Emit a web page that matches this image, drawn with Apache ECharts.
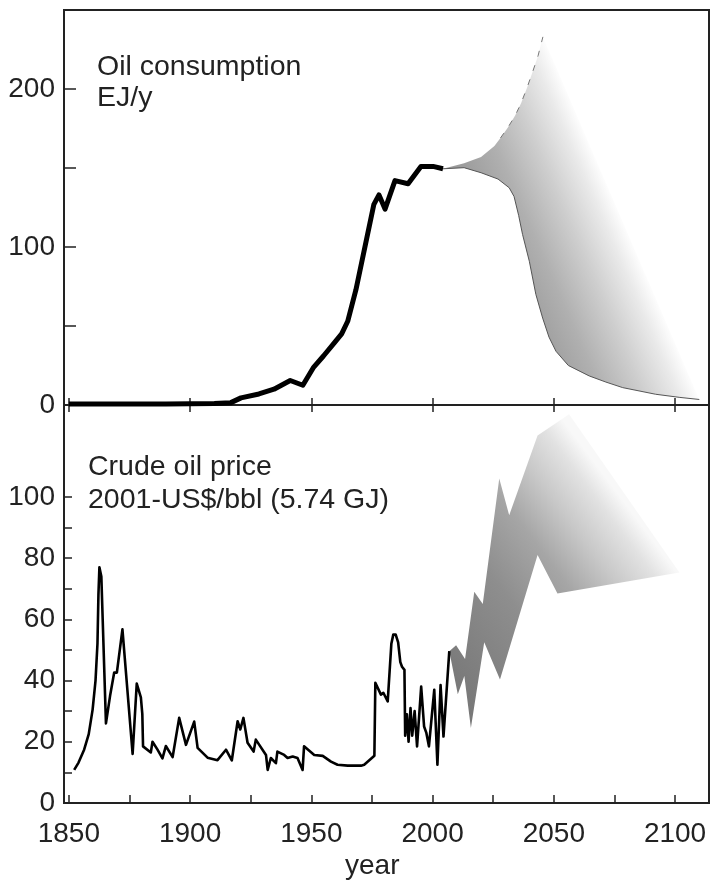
<!DOCTYPE html>
<html><head><meta charset="utf-8">
<script src="https://cdn.jsdelivr.net/npm/echarts@6/dist/echarts.min.js"></script>
<style>html,body{margin:0;padding:0;background:#fff}#c{width:715px;height:881px}</style>
</head><body><div id="c"></div>
<script>
// ---------- data ----------
const xTickLabels = [1850, 1900, 1950, 2000, 2050, 2100];
const xMinorTicks = [1850, 1875, 1900, 1925, 1950, 1975, 2000, 2025, 2050, 2075, 2100];
const consTicks = [0, 50, 100, 150, 200];
const consTickLabels = [0, 100, 200];
const priceTicks = [0, 10, 20, 30, 40, 50, 60, 70, 80, 90, 100];
const priceTickLabels = [0, 20, 40, 60, 80, 100];

// historic oil consumption, EJ/y
const consYears  = [1850, 1870, 1890, 1900, 1910, 1916.8, 1921, 1928.4, 1934.6, 1941.3, 1946.5, 1951, 1955, 1959.3, 1962.5, 1965, 1968.4, 1975.8, 1977.9, 1980.4, 1984.5, 1989.9, 1995.2, 2000.2, 2004.3];
const consValues = [0.6, 0.6, 0.7, 0.8, 1.0, 1.5, 4.5, 7, 10, 15.5, 12.5, 24, 31, 39, 45, 53, 73, 127, 133, 124, 142, 140, 151, 151, 149.5];

// future consumption envelope
const consUpperYears  = [2004.3, 2013, 2020, 2025.5, 2028, 2031, 2034, 2036.5, 2039, 2041.3, 2043.5, 2045.5, 2110];
const consUpperValues = [149.5, 153, 157, 164, 169, 175.5, 183, 191, 201, 211, 221, 233, 3.5];
const consLowerYears  = [2004.3, 2013, 2020, 2027, 2031.6, 2033.6, 2035.5, 2037.1, 2039.9, 2042.6, 2045.4, 2048, 2050.9, 2056, 2064.6, 2071.5, 2078.4, 2092, 2102, 2110];
const consLowerValues = [149.5, 150.2, 147, 143, 137.5, 132, 120, 108, 91, 70, 55, 43, 34, 25, 18.4, 14.5, 11, 6.8, 4.8, 3.5];

// historic crude oil price, 2001-US$/bbl
const priceYears = [1852.2, 1854, 1856.3, 1858.2, 1859.8, 1861, 1861.8, 1862.2, 1862.6, 1863.0, 1863.4, 1865.3, 1867, 1868.7, 1869.8, 1872.1, 1876.3, 1878, 1879.7, 1880.3, 1880.6, 1883.8, 1884.5, 1886.5, 1888.6, 1890, 1892.8, 1895.5, 1898.3, 1901.7, 1903.1, 1907.2, 1911.3, 1914.8, 1917.2, 1919.6, 1920.7, 1922, 1923.7, 1926.2, 1927.1, 1931.3, 1932, 1933.3, 1935.4, 1936, 1938.8, 1940.2, 1942.3, 1944.3, 1946.4, 1947, 1951.2, 1954.7, 1958.1, 1960.8, 1965, 1970.5, 1971.8, 1976, 1976.4, 1978.7, 1979.7, 1981.5, 1983.0, 1983.8, 1984.8, 1985.8, 1986.7, 1987.4, 1988.4, 1988.7, 1989.4, 1990.1, 1990.9, 1991.6, 1992.6, 1993.6, 1995.3, 1996.5, 1997.4, 1998.5, 2000.7, 2002, 2003.3, 2004.5, 2006.9];
const priceValues = [10.8, 13.2, 17.4, 22.5, 30.5, 40, 52, 68, 77, 77.5, 74, 26, 35, 42.6, 42.6, 56.7, 16, 39, 34.5, 29, 18.5, 16.5, 20, 17.5, 14.6, 18.6, 15, 27.8, 19, 26.6, 18, 14.8, 14, 17.4, 13.9, 26.7, 24, 27.8, 19.7, 16.8, 20.7, 15.7, 10.8, 14.7, 13, 16.8, 15.7, 14.7, 15.2, 14.7, 10.8, 18.5, 15.7, 15.4, 13.5, 12.5, 12.2, 12.2, 12.5, 15.4, 39.3, 35.4, 36, 33.2, 52, 55, 55, 52.5, 46, 44.5, 43.5, 22, 29, 20, 31, 22, 30, 18.5, 38, 25, 23, 18.5, 37, 12.5, 38.5, 21.7, 49.6];

// future price band
const priceUpperYears  = [2006.9, 2009.7, 2013.4, 2017.2, 2020.7, 2027.5, 2031.6, 2043.3, 2056.3, 2101.8];
const priceUpperValues = [49.6, 51.5, 47, 69, 65, 106, 94, 120, 127, 75.3];
const priceLowerYears  = [2006.9, 2010.4, 2013.1, 2015.8, 2021.3, 2027.8, 2043.3, 2051.5, 2101.8];
const priceLowerValues = [49.6, 35.5, 41.5, 24.5, 52.5, 40.3, 81, 68.4, 75.3];

// ---------- helpers ----------
const zip = (a, b) => a.map((v, i) => [v, b[i]]);
const FONT = 'Liberation Sans, Arial, Helvetica, sans-serif';
const INK = '#222';

const consLine = zip(consYears, consValues);
const consUpper = zip(consUpperYears, consUpperValues);
const consLower = zip(consLowerYears, consLowerValues);
const priceLine = zip(priceYears, priceValues);
const priceUpper = zip(priceUpperYears, priceUpperValues);
const priceLower = zip(priceLowerYears, priceLowerValues);

function band(upper, lower, gradient) {
  return function (params, api) {
    if (params.dataIndex !== 0) return null;
    const pts = upper.concat(lower.slice().reverse()).map(p => api.coord(p));
    return { type: 'polygon', silent: true, shape: { points: pts }, style: { fill: gradient(api), stroke: null } };
  };
}

const consGradient = api => {
  const p1 = api.coord(consUpper[consUpper.length - 2]);
  const p2 = api.coord(consUpper[consUpper.length - 1]);
  let dx = p2[0] - p1[0], dy = p2[1] - p1[1];
  const L = Math.hypot(dx, dy); dx /= L; dy /= L;
  const nx = dy, ny = -dx; // normal pointing right/up
  const wx = (p1[0] + p2[0]) / 2, wy = (p1[1] + p2[1]) / 2;
  return {
    type: 'linear', global: true,
    x: wx - 125 * nx, y: wy - 125 * ny, x2: wx + 2 * nx, y2: wy + 2 * ny,
    colorStops: [
      { offset: 0, color: '#9c9c9c' }, { offset: 0.3, color: '#b0b0b0' },
      { offset: 0.6, color: '#cecece' }, { offset: 0.85, color: '#eaeaea' },
      { offset: 1, color: '#ffffff' }
    ]
  };
};
const priceGradient = api => {
  const a = api.coord([2011.3, 33.7]);
  const b = api.coord([2093.8, 82.7]);
  return {
    type: 'linear', global: true, x: a[0], y: a[1], x2: b[0], y2: b[1],
    colorStops: [
      { offset: 0, color: '#787878' }, { offset: 0.4, color: '#8e8e8e' },
      { offset: 0.62, color: '#a6a6a6' }, { offset: 0.78, color: '#c8c8c8' },
      { offset: 0.92, color: '#e2e2e2' }, { offset: 1, color: '#f8f8f8' }
    ]
  };
};

const tickStyle = { color: INK, width: 1.5 };
const labelStyle = { fontSize: 28, fontFamily: FONT, color: INK, formatter: v => String(v) };

const chart = echarts.init(document.getElementById('c'), null, { renderer: 'canvas' });
chart.setOption({
  animation: false,
  backgroundColor: '#fff',
  grid: [
    { left: 64, right: 6, top: 10, height: 395, show: true, borderColor: INK, borderWidth: 2, backgroundColor: 'transparent' },
    { left: 64, right: 6, top: 405, height: 398, show: true, borderColor: INK, borderWidth: 2, backgroundColor: 'transparent' }
  ],
  xAxis: [
    { gridIndex: 0, type: 'value', min: 1848, max: 2114, position: 'bottom',
      axisLine: { show: false }, splitLine: { show: false },
      axisTick: { show: true, inside: true, length: 7, lineStyle: tickStyle, customValues: xTickLabels },
      axisLabel: { show: false } },
    { gridIndex: 1, type: 'value', min: 1848, max: 2114, position: 'bottom',
      axisLine: { show: false }, splitLine: { show: false },
      axisTick: { show: true, inside: true, length: 8, lineStyle: tickStyle, customValues: xMinorTicks },
      axisLabel: Object.assign({ show: true, margin: 17, customValues: xTickLabels }, labelStyle) },
    { gridIndex: 1, type: 'value', min: 1848, max: 2114, position: 'top',
      axisLine: { show: false }, splitLine: { show: false },
      axisTick: { show: true, inside: true, length: 7, lineStyle: tickStyle, customValues: xTickLabels },
      axisLabel: { show: false } }
  ],
  yAxis: [
    { gridIndex: 0, type: 'value', min: 0, max: 250,
      axisLine: { show: false }, splitLine: { show: false },
      axisTick: { show: true, inside: true, length: 12, lineStyle: tickStyle, customValues: consTicks },
      axisLabel: Object.assign({ show: true, margin: 9, customValues: consTickLabels }, labelStyle) },
    { gridIndex: 1, type: 'value', min: 0, max: 130,
      axisLine: { show: false }, splitLine: { show: false },
      axisTick: { show: true, inside: true, length: 8, lineStyle: tickStyle, customValues: priceTicks },
      axisLabel: Object.assign({ show: true, margin: 9, customValues: priceTickLabels }, labelStyle) }
  ],
  graphic: [
    { type: 'text', left: 97, top: 52, silent: true,
      style: { text: 'Oil consumption\nEJ/y', font: '28.5px ' + FONT, lineHeight: 31, fill: INK } },
    { type: 'text', left: 88, top: 451, silent: true,
      style: { text: 'Crude oil price\n2001-US$/bbl (5.74 GJ)', font: '28.5px ' + FONT, lineHeight: 33, fill: INK } },
    { type: 'text', left: 345, top: 852, silent: true,
      style: { text: 'year', font: '28px ' + FONT, fill: INK } }
  ],
  series: [
    { type: 'custom', xAxisIndex: 0, yAxisIndex: 0, z: 1, silent: true,
      renderItem: band(consUpper, consLower, consGradient), data: consUpper },
    { type: 'line', xAxisIndex: 0, yAxisIndex: 0, z: 2, silent: true, symbol: 'none',
      lineStyle: { color: '#555', width: 1 }, data: consLower },
    { type: 'line', xAxisIndex: 0, yAxisIndex: 0, z: 2, silent: true, symbol: 'none',
      lineStyle: { color: '#777', width: 1, type: [6, 9] }, data: consUpper.slice(4, 12) },
    { type: 'line', xAxisIndex: 0, yAxisIndex: 0, z: 3, silent: true, symbol: 'none',
      lineStyle: { color: '#000', width: 5, join: 'round' }, data: consLine },
    { type: 'custom', xAxisIndex: 1, yAxisIndex: 1, z: 1, silent: true,
      renderItem: band(priceUpper, priceLower, priceGradient), data: priceUpper },
    { type: 'line', xAxisIndex: 1, yAxisIndex: 1, z: 3, silent: true, symbol: 'none',
      lineStyle: { color: '#000', width: 2.6, join: 'round' }, data: priceLine }
  ]
});
</script>
</body></html>
